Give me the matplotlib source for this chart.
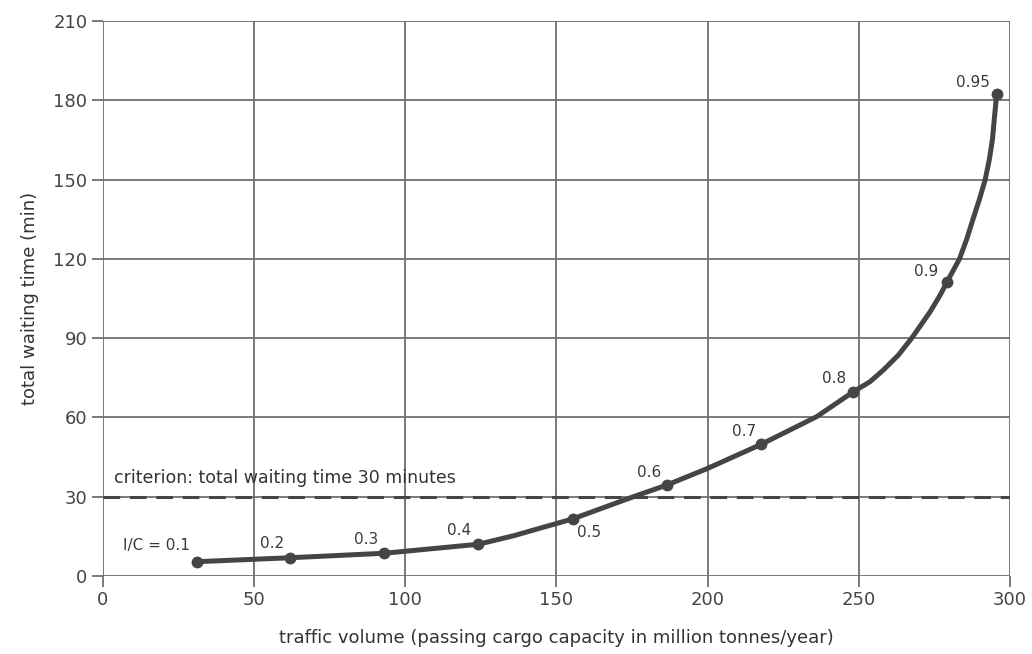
import numpy as np
import matplotlib
matplotlib.use("Agg")
import matplotlib.pyplot as plt

# I/C points (traffic volume vs total waiting time)
ic_labels = ["I/C = 0.1", "0.2", "0.3", "0.4", "0.5", "0.6", "0.7", "0.8", "0.9", "0.95"]
volume = [31.1, 62.0, 93.1, 124.2, 155.4, 186.5, 217.7, 248.2, 279.1, 295.6]
waiting = [5.4, 6.9, 8.6, 12.0, 21.6, 34.4, 49.8, 69.7, 111.1, 182.4]

# points
curve_x = [31.1, 62.0, 93.1, 124.2, 135.8, 155.4, 175.5, 186.5, 200.0, 217.7,
           236.1, 248.2, 253.7, 258.1, 263.1, 267.5, 273.6, 276.9, 279.1, 283.3,
           285.7, 287.9, 289.9, 291.8, 293.2, 294.2, 294.8, 295.6]
curve_y = [5.4, 6.9, 8.6, 12.0, 15.2, 21.6, 30.0, 34.4, 40.7, 49.8,
           60.3, 69.7, 73.5, 77.9, 83.6, 90.0, 100.0, 106.3, 111.1, 120.0,
           127.5, 135.5, 142.6, 150.0, 157.8, 165.3, 172.9, 182.4]

criterion = 30
x_ticks = [0, 50, 100, 150, 200, 250, 300]
y_ticks = [0, 30, 60, 90, 120, 150, 180, 210]

# label offsets in pixels (dx, dy, ha)
label_offsets = [(-7, 16, "right"), (-18, 14, "center"), (-18, 14, "center"),
                 (-19, 14, "center"), (16, -14, "center"), (-18, 13, "center"),
                 (-17, 13, "center"), (-19, 13, "center"), (-21, 11, "center"),
                 (-24, 11, "center")]

line_col = "#454545"
grid_col = "#6e6e6e"
plt.rcParams["lines.scale_dashes"] = False

fig = plt.figure(figsize=(10.32, 6.54), dpi=100)
ax = fig.add_axes([0.0995, 0.1193, 0.8792, 0.8486])

ax.set_xlim(0, 300)
ax.set_ylim(0, 210)
ax.set_xticks(x_ticks)
ax.set_yticks(y_ticks)
ax.grid(True, color=grid_col, linewidth=1.3)
ax.set_axisbelow(True)
for s in ax.spines.values():
    s.set_visible(False)
ax.tick_params(axis="both", length=8, width=1.3, color=grid_col,
               labelsize=13, labelcolor="#444444", pad=3)

ax.axhline(criterion, color=line_col, linewidth=2.2, dashes=(12, 7))
ax.text(3.7, criterion + 5.2, "criterion: total waiting time 30 minutes",
        fontsize=12.5, color="#333333", va="baseline", ha="left")

ax.plot(curve_x, curve_y, color=line_col, linewidth=3.6, solid_capstyle="round",
        solid_joinstyle="round", zorder=3)
ax.plot(volume, waiting, "o", color=line_col, markersize=7.5, zorder=4)

for lab, x, y, (dx, dy, ha) in zip(ic_labels, volume, waiting, label_offsets):
    ax.annotate(lab, (x, y), xytext=(dx, dy), textcoords="offset pixels",
                ha=ha, va="center", fontsize=11, color="#3a3a3a")

ax.set_xlabel("traffic volume (passing cargo capacity in million tonnes/year)",
              fontsize=13, color="#333333", labelpad=14)
ax.set_ylabel("total waiting time (min)", fontsize=13, color="#333333", labelpad=10)

fig.savefig("out.png", dpi=100)
